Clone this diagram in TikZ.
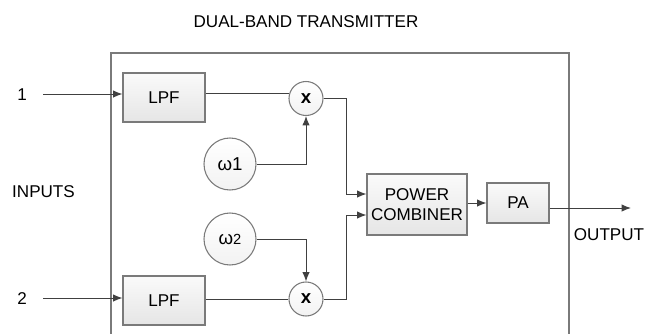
\documentclass[tikz,border=0pt]{standalone}
\usepackage{fontspec}
\setmainfont{Liberation Sans}
\usetikzlibrary{arrows.meta,calc}
\definecolor{linec}{HTML}{404040}
\definecolor{edgec}{HTML}{7A7A7A}
\begin{document}
\begin{tikzpicture}[x=0.75pt,y=-0.75pt,
  every node/.style={font=\fontsize{12.8}{15.5}\selectfont, text=black},
  blk/.style={draw=edgec, line width=0.8pt, top color=gray!4, bottom color=gray!20, inner sep=0pt},
  circ/.style={circle, draw=edgec, line width=0.8pt, top color=white, bottom color=gray!10, inner sep=0pt},
  wire/.style={draw=linec, line width=0.75pt},
  arr/.style={wire, -{Latex[length=7pt,width=5.5pt]}},
  lbl/.style={inner sep=0pt}]
\useasboundingbox (0,0) rectangle (646,333);
% outer frame
\draw[draw=edgec, line width=0.9pt] (111,340) -- (111,53) -- (569,53) -- (569,340);
% title and labels
\node[lbl] (title) at (306,22) {DUAL-BAND TRANSMITTER};
\node[lbl] (n1) at (22,94.5) {1};
\node[lbl] (n2) at (22,299) {2};
\node[lbl] (inputs) at (43.5,191.5) {INPUTS};
\node[lbl] (output) at (609,235) {OUTPUT};
% blocks
\node[blk, minimum width=61.5pt, minimum height=36.75pt] (lpf1) at (164,97.5) {LPF};
\node[blk, minimum width=61.5pt, minimum height=36.75pt] (lpf2) at (164,300.5) {LPF};
\node[circ, minimum size=25.5pt] (m1) at (306,98.5) {\fontsize{14}{16}\selectfont\textbf{x}};
\node[circ, minimum size=25.5pt] (m2) at (306,299) {\fontsize{14}{16}\selectfont\textbf{x}};
\node[circ, minimum size=39pt] (w1) at (230,164) {\fontsize{14}{16}\selectfont ω1};
\node[circ, minimum size=39pt] (w2) at (230,239) {\fontsize{14}{16}\selectfont ω{\fontsize{11}{12}\selectfont 2}};
\node[blk, minimum width=75pt, minimum height=45.75pt, align=center] (comb) at (417,204.5) {POWER\\COMBINER};
\node[blk, minimum width=46.5pt, minimum height=30pt] (pa) at (518,203) {PA};
% free ends
\coordinate (in1) at (43,94);
\coordinate (in2) at (43,298);
\coordinate (bus) at (346,0);
\coordinate (out) at (631,208);
% connectors
\draw[arr] (in1) -- (lpf1.west |- in1);
\draw[arr] (in2) -- (lpf2.west |- in2);
\draw[wire] (lpf1.east |- m1.165) -- (m1.165);
\draw[wire] (lpf2.east |- m2.west) -- (m2.west);
\draw[arr] (w1.east) -| (m1.south);
\draw[arr] (w2.east) -| (m2.north);
\draw[arr] (m1.east) -- (m1.east -| bus) |- ([yshift=7.875pt]comb.west);
\draw[arr] (m2.east) -- (m2.east -| bus) |- ([yshift=-7.875pt]comb.west);
\draw[arr] (comb.east |- pa.west) -- (pa.west);
\draw[arr] (pa.east |- out) -- (out);
\end{tikzpicture}
\end{document}
